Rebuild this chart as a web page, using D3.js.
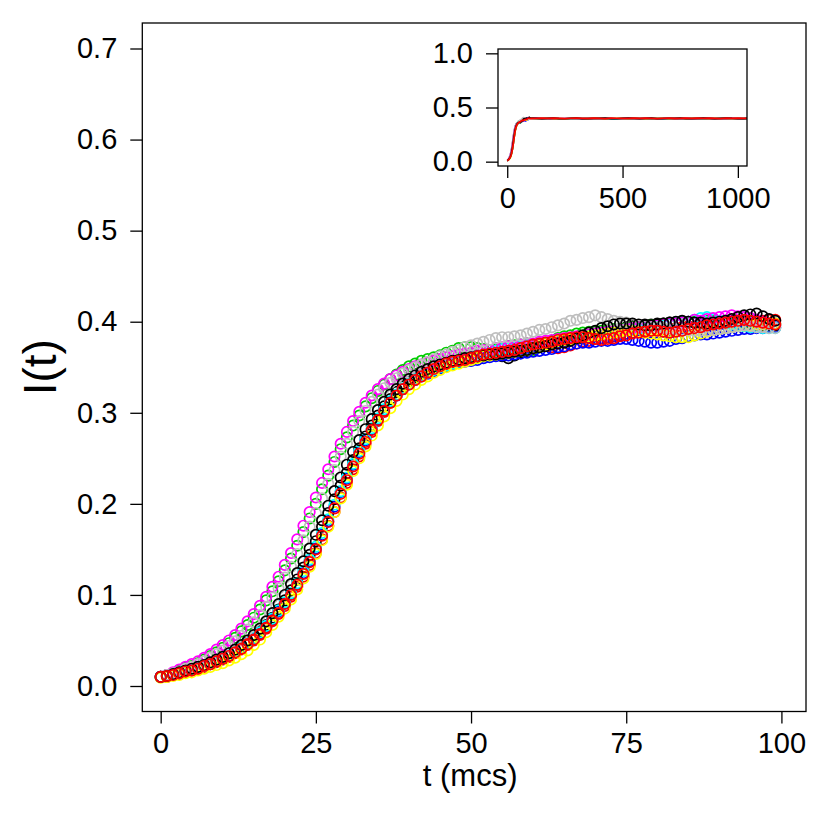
<!DOCTYPE html>
<html>
<head>
<meta charset="utf-8">
<script src="https://cdn.jsdelivr.net/npm/d3@7"></script>
<style>
  body { margin: 0; background: #fff; }
  text { font-family: "Liberation Sans", Arial, Helvetica, sans-serif; }
</style>
</head>
<body>
<div id="chart"></div>
<script>
// Data: I(t) for 10 runs, t = 0..99 mcs (main panel)
var seriesColors = ["#000000", "#FF0000", "#00CD00", "#0000FF", "#00FFFF", "#FF00FF", "#FFFF00", "#BEBEBE", "#000000", "#FF0000"];

var run1 = [.010,.011,.012,.014,.016,.018,.020,.022,.025,.028,
  .031,.034,.038,.043,.048,.053,.060,.067,.075,.084,
  .094,.105,.117,.130,.144,.159,.175,.190,.205,.220,
  .234,.248,.261,.274,.286,.297,.307,.315,.323,.329,
  .335,.339,.343,.347,.350,.352,.354,.356,.358,.359,
  .360,.361,.362,.363,.364,.362,.360,.363,.366,.368,
  .370,.372,.374,.376,.378,.379,.380,.381,.382,.383,
  .384,.386,.388,.390,.392,.394,.395,.396,.397,.397,
  .398,.398,.399,.399,.400,.400,.399,.398,.398,.399,
  .400,.401,.401,.400,.399,.398,.397,.396,.396,.396];
var run2 = [.010,.010,.012,.013,.015,.017,.019,.021,.024,.026,
  .029,.032,.036,.040,.045,.050,.056,.063,.071,.079,
  .088,.098,.109,.120,.133,.146,.161,.176,.191,.207,
  .223,.238,.252,.266,.279,.291,.301,.311,.319,.326,
  .332,.337,.341,.345,.348,.351,.353,.355,.357,.359,
  .360,.362,.363,.364,.365,.366,.368,.370,.372,.373,
  .374,.375,.374,.372,.371,.372,.374,.376,.378,.379,
  .381,.382,.383,.384,.385,.387,.388,.389,.390,.390,
  .391,.392,.392,.393,.394,.395,.395,.396,.396,.397,
  .398,.398,.399,.399,.400,.400,.401,.401,.402,.402];
var run3 = [.010,.012,.014,.017,.020,.022,.025,.029,.033,.037,
  .042,.047,.053,.060,.067,.075,.084,.094,.104,.115,
  .127,.140,.154,.169,.184,.200,.216,.231,.246,.260,
  .273,.286,.297,.307,.316,.324,.331,.337,.342,.347,
  .351,.354,.357,.359,.361,.363,.366,.368,.371,.372,
  .372,.371,.370,.369,.370,.371,.373,.374,.375,.376,
  .368,.372,.376,.379,.382,.384,.385,.387,.388,.389,
  .389,.390,.391,.392,.392,.393,.394,.395,.395,.396,
  .396,.397,.398,.398,.399,.399,.400,.400,.401,.401,
  .400,.399,.398,.398,.399,.400,.400,.399,.398,.398];
var run4 = [.010,.011,.012,.014,.016,.018,.020,.022,.024,.027,
  .030,.034,.038,.042,.047,.052,.058,.065,.073,.082,
  .091,.101,.112,.124,.137,.151,.166,.181,.197,.213,
  .228,.243,.257,.270,.282,.293,.303,.312,.319,.326,
  .331,.336,.340,.343,.346,.349,.351,.353,.355,.356,
  .357,.358,.360,.361,.362,.363,.363,.364,.365,.366,
  .367,.368,.369,.370,.372,.373,.375,.376,.377,.377,
  .378,.379,.379,.380,.381,.381,.380,.379,.378,.377,
  .377,.378,.379,.381,.382,.384,.385,.386,.386,.387,
  .388,.389,.390,.391,.392,.392,.393,.393,.394,.394];
var run5 = [.010,.011,.012,.014,.016,.018,.020,.022,.025,.028,
  .031,.034,.038,.042,.047,.053,.059,.066,.074,.083,
  .092,.102,.113,.126,.139,.153,.168,.183,.199,.214,
  .229,.244,.258,.271,.283,.294,.304,.313,.320,.327,
  .332,.337,.341,.344,.347,.350,.352,.354,.356,.358,
  .360,.362,.364,.366,.368,.370,.371,.372,.373,.374,
  .375,.376,.377,.378,.379,.381,.382,.383,.384,.385,
  .386,.387,.388,.389,.390,.390,.391,.392,.393,.394,
  .395,.396,.397,.398,.399,.400,.402,.404,.405,.403,
  .401,.399,.397,.396,.395,.394,.394,.393,.393,.393];
var run6 = [.010,.012,.015,.018,.021,.024,.027,.031,.035,.040,
  .045,.050,.056,.063,.071,.079,.088,.098,.109,.120,
  .133,.146,.161,.176,.191,.207,.223,.238,.252,.266,
  .279,.291,.301,.311,.319,.326,.332,.337,.341,.345,
  .348,.351,.353,.355,.357,.359,.361,.362,.364,.365,
  .366,.368,.369,.369,.371,.372,.373,.373,.375,.376,
  .376,.378,.379,.380,.381,.382,.383,.384,.384,.386,
  .387,.388,.389,.390,.391,.392,.393,.394,.394,.395,
  .396,.397,.398,.398,.399,.400,.402,.401,.403,.404,
  .405,.406,.407,.406,.405,.404,.402,.400,.398,.398];
var run7 = [.009,.010,.011,.012,.014,.015,.017,.019,.021,.023,
  .025,.028,.031,.035,.039,.045,.051,.059,.067,.076,
  .085,.095,.106,.118,.131,.145,.160,.175,.191,.206,
  .221,.236,.250,.263,.275,.286,.296,.305,.313,.320,
  .326,.331,.336,.340,.344,.347,.350,.352,.354,.356,
  .358,.360,.362,.363,.364,.365,.366,.367,.368,.369,
  .371,.373,.375,.377,.379,.380,.381,.382,.383,.384,
  .385,.386,.387,.388,.389,.390,.390,.389,.388,.387,
  .386,.385,.384,.383,.383,.383,.385,.387,.389,.391,
  .392,.393,.394,.395,.396,.396,.397,.397,.398,.398];
var run8 = [.010,.012,.014,.016,.019,.021,.024,.027,.031,.035,
  .039,.044,.049,.055,.062,.070,.078,.087,.097,.107,
  .119,.131,.145,.160,.175,.190,.206,.222,.237,.252,
  .266,.279,.291,.302,.312,.320,.327,.333,.338,.343,
  .347,.350,.353,.356,.359,.362,.364,.367,.369,.372,
  .374,.376,.378,.380,.382,.383,.383,.384,.385,.387,
  .389,.391,.392,.394,.396,.398,.401,.402,.404,.405,
  .407,.405,.403,.401,.400,.399,.397,.396,.395,.394,
  .394,.393,.392,.392,.391,.391,.390,.390,.390,.391,
  .392,.393,.394,.395,.396,.395,.394,.394,.393,.393];
var run9 = [.010,.011,.013,.015,.017,.019,.021,.023,.026,.029,
  .032,.036,.040,.045,.050,.056,.063,.071,.080,.090,
  .100,.112,.124,.137,.151,.166,.182,.198,.214,.229,
  .243,.257,.270,.282,.293,.303,.312,.320,.326,.332,
  .337,.341,.345,.348,.351,.353,.355,.357,.358,.360,
  .361,.362,.363,.364,.364,.365,.366,.367,.368,.369,
  .371,.372,.373,.375,.376,.377,.379,.382,.385,.388,
  .390,.393,.395,.397,.398,.398,.398,.397,.396,.396,
  .397,.398,.399,.400,.401,.400,.399,.399,.398,.399,
  .400,.401,.403,.405,.407,.408,.409,.406,.403,.401];
var run10 = [.010,.011,.012,.014,.016,.017,.019,.022,.024,.027,
  .030,.033,.037,.041,.046,.051,.057,.064,.072,.080,
  .090,.100,.111,.123,.136,.150,.165,.180,.195,.211,
  .226,.241,.255,.268,.281,.292,.302,.311,.319,.326,
  .331,.336,.340,.344,.348,.351,.354,.356,.357,.358,
  .360,.362,.364,.365,.366,.367,.368,.369,.371,.373,
  .375,.376,.377,.378,.380,.381,.382,.383,.383,.382,
  .381,.380,.381,.382,.384,.385,.387,.388,.389,.390,
  .390,.389,.388,.389,.390,.392,.393,.394,.396,.397,
  .398,.399,.400,.401,.402,.401,.400,.399,.398,.397];

// Plateau values for the inset, t = 100, 125, ..., 1050 (drawn clipped at the box)
var tail1 = [.399,.401,.398,.402,.400,.397,.401,.403,.399,.398,
  .400,.402,.399,.397,.401,.400,.403,.398,.399,.401,
  .400,.398,.402,.399,.397,.400,.401,.403,.399,.398,
  .400,.402,.398,.401,.399,.400,.401,.399,.400];
var tail2 = [.402,.400,.398,.401,.399,.403,.400,.398,.401,.402,
  .399,.397,.400,.402,.401,.398,.399,.401,.403,.400,
  .398,.401,.399,.400,.402,.398,.397,.400,.401,.399,
  .402,.400,.398,.401,.403,.399,.400,.401,.399];
var tail3 = [.398,.400,.402,.399,.401,.398,.400,.397,.401,.403,
  .400,.398,.399,.402,.400,.401,.397,.399,.402,.400,
  .401,.399,.398,.400,.403,.401,.399,.398,.400,.402,
  .399,.401,.400,.398,.402,.400,.399,.401,.400];
var tail4 = [.394,.397,.399,.396,.400,.398,.395,.399,.401,.397,
  .396,.399,.398,.400,.397,.395,.399,.401,.398,.396,
  .399,.400,.397,.398,.401,.399,.396,.398,.400,.397,
  .399,.398,.400,.396,.399,.401,.398,.397,.399];
var tail5 = [.393,.397,.400,.402,.399,.401,.398,.400,.403,.399,
  .401,.398,.400,.402,.399,.397,.401,.400,.398,.402,
  .400,.399,.401,.398,.400,.403,.399,.398,.401,.400,
  .398,.401,.399,.402,.400,.399,.401,.400,.398];
var tail6 = [.398,.401,.403,.400,.398,.402,.404,.399,.400,.401,
  .398,.402,.400,.399,.403,.401,.398,.400,.402,.399,
  .401,.403,.400,.398,.399,.402,.400,.401,.398,.400,
  .403,.399,.401,.400,.398,.402,.400,.401,.403];
var tail7 = [.398,.396,.399,.401,.398,.400,.397,.399,.402,.400,
  .398,.401,.399,.397,.400,.402,.399,.398,.401,.399,
  .397,.400,.402,.399,.398,.400,.401,.397,.399,.401,
  .400,.398,.402,.399,.400,.397,.399,.400,.398];
var tail8 = [.393,.398,.401,.400,.403,.399,.401,.398,.400,.402,
  .401,.399,.398,.401,.403,.400,.398,.399,.401,.400,
  .402,.399,.400,.398,.401,.402,.400,.399,.398,.401,
  .400,.402,.399,.400,.401,.398,.400,.402,.399];
var tail9 = [.401,.399,.397,.400,.402,.398,.396,.400,.401,.398,
  .397,.400,.399,.401,.398,.396,.399,.402,.400,.397,
  .399,.401,.398,.397,.400,.399,.402,.398,.397,.400,
  .401,.399,.398,.400,.402,.399,.398,.397,.400];
var tail10 = [.397,.400,.402,.399,.401,.400,.398,.401,.403,.400,
  .399,.401,.400,.398,.402,.401,.399,.400,.402,.399,
  .401,.400,.398,.401,.403,.400,.399,.401,.400,.402,
  .399,.401,.400,.398,.401,.400,.402,.399,.401];

var tMain = d3.range(0, 100);
var tTail = d3.range(100, 1051, 25);
var mainTicksX = [0, 25, 50, 75, 100];
var mainTicksY = [0, 0.1, 0.2, 0.3, 0.4, 0.5, 0.6, 0.7];
var insetTicksX = [0, 500, 1000];
var insetTicksY = [0, 0.5, 1.0];

var runs = [run1, run2, run3, run4, run5, run6, run7, run8, run9, run10];
var tails = [tail1, tail2, tail3, tail4, tail5, tail6, tail7, tail8, tail9, tail10];

var svgWidth = 830;
var svgHeight = 830;
var margin = { top: 23, right: 24, bottom: 118.5, left: 142.3 };
var width = svgWidth - margin.left - margin.right;
var height = svgHeight - margin.top - margin.bottom;

var svg = d3.select("#chart")
  .append("svg")
  .attr("width", svgWidth)
  .attr("height", svgHeight);

var chartGroup = svg.append("g")
  .attr("transform", `translate(${margin.left}, ${margin.top})`);

// scales (R style: limits padded by 4%)
var xScale = d3.scaleLinear().domain([-2.96, 103.96]).range([0, width]);
var yScale = d3.scaleLinear().domain([-0.028, 0.728]).range([height, 0]);

// points, run 1 first so the last red run sits on top
runs.forEach(function (run, i) {
  chartGroup.append("g").selectAll("circle")
    .data(run)
    .enter()
    .append("circle")
    .attr("cx", function (d, j) { return xScale(tMain[j]); })
    .attr("cy", function (d) { return yScale(d); })
    .attr("r", 5.2)
    .attr("fill", "none")
    .attr("stroke", seriesColors[i])
    .attr("stroke-width", 1.7);
});

// axes
var xAxis = d3.axisBottom(xScale).tickValues(mainTicksX).tickSize(12).tickPadding(9)
  .tickFormat(d3.format("d"));
var yAxis = d3.axisLeft(yScale).tickValues(mainTicksY).tickSize(12).tickPadding(13)
  .tickFormat(d3.format(".1f"));

chartGroup.append("g")
  .attr("transform", `translate(0, ${height})`)
  .call(xAxis)
  .call(styleAxis);

chartGroup.append("g")
  .call(yAxis)
  .call(styleAxis);

chartGroup.append("rect")
  .attr("width", width)
  .attr("height", height)
  .attr("fill", "none")
  .attr("stroke", "#000")
  .attr("stroke-width", 1.3);

function styleAxis(g) {
  g.select(".domain").remove();
  g.selectAll(".tick line").attr("stroke", "#000").attr("stroke-width", 1.3);
  g.selectAll(".tick text")
    .attr("fill", "#000")
    .style("font-size", "29px")
    .style("font-family", "'Liberation Sans', Arial, sans-serif");
}

// axis labels
svg.append("text")
  .attr("transform", `translate(${margin.left + width / 2 - 4}, 786)`)
  .attr("text-anchor", "middle")
  .style("font-size", "31px")
  .text("t (mcs)");

svg.append("text")
  .attr("transform", `translate(56, ${margin.top + height / 2}) rotate(-90)`)
  .attr("text-anchor", "middle")
  .style("font-size", "46px")
  .text("I(t)");

// Inset: full run to t = 1000
var inset = { left: 498, top: 49, width: 249, height: 117 };
var insetGroup = svg.append("g")
  .attr("transform", `translate(${inset.left}, ${inset.top})`);

insetGroup.append("clipPath")
  .attr("id", "inset-clip")
  .append("rect")
  .attr("width", inset.width)
  .attr("height", inset.height);

var xInset = d3.scaleLinear().domain([-40, 1039.6]).range([0, inset.width]);
var yInset = d3.scaleLinear().domain([-0.04, 1.04]).range([inset.height, 0]);

var insetLine = d3.line()
  .x(function (d) { return xInset(d[0]); })
  .y(function (d) { return yInset(d[1]); });

var lineGroup = insetGroup.append("g").attr("clip-path", "url(#inset-clip)");

runs.forEach(function (run, i) {
  var pts = run.map(function (v, j) { return [tMain[j], v]; })
    .concat(tails[i].map(function (v, j) { return [tTail[j], v]; }));
  lineGroup.append("path")
    .datum(pts)
    .attr("d", insetLine)
    .attr("fill", "none")
    .attr("stroke", seriesColors[i])
    .attr("stroke-width", 1.7);
});

insetGroup.append("g")
  .attr("transform", `translate(0, ${inset.height})`)
  .call(d3.axisBottom(xInset).tickValues(insetTicksX).tickSize(12).tickPadding(9).tickFormat(d3.format("d")))
  .call(styleAxis);

insetGroup.append("g")
  .call(d3.axisLeft(yInset).tickValues(insetTicksY).tickSize(12).tickPadding(13).tickFormat(d3.format(".1f")))
  .call(styleAxis);

insetGroup.append("rect")
  .attr("width", inset.width)
  .attr("height", inset.height)
  .attr("fill", "none")
  .attr("stroke", "#000")
  .attr("stroke-width", 1.3);
</script>
</body>
</html>
